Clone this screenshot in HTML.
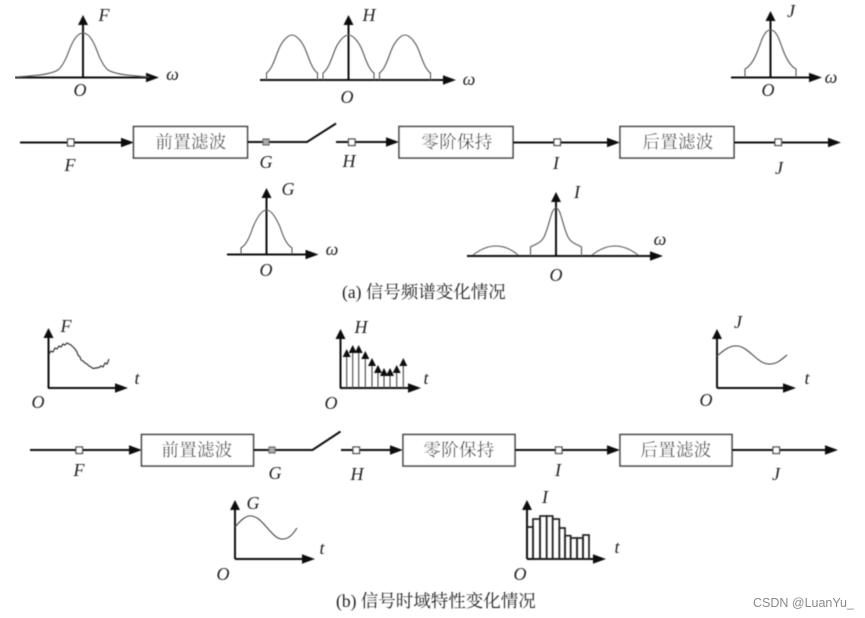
<!DOCTYPE html>
<html><head><meta charset="utf-8"><style>
html,body{margin:0;padding:0;background:#fff}
svg{display:block}
.l{font:italic 18px "Liberation Serif",serif;fill:#222;text-anchor:middle}
.w{font:italic 18px "Liberation Serif",serif;fill:#222;text-anchor:middle}
.z{font:17.500px "Noto Serif CJK SC","Liberation Serif",serif;fill:#333;text-anchor:middle;letter-spacing:.3px}
.c{font:17.500px "Liberation Serif","Noto Serif CJK SC",serif;fill:#222}
.a{stroke:#111;stroke-width:2;fill:none}
.b{fill:#fff;stroke:#444;stroke-width:1.600}
.k{fill:none;stroke:#555;stroke-width:1.100}
.s{fill:#fff;stroke:#444;stroke-width:1.300}
</style></head><body>
<svg width="865" height="618" viewBox="0 0 865 618" xmlns="http://www.w3.org/2000/svg">
<defs><filter id="bl" x="0" y="0" width="100%" height="100%"><feGaussianBlur stdDeviation="0.45"/></filter>
<path id="ar" d="M0 0L-13 -4.800L-13 4.800Z" fill="#111"/>
<path id="au" d="M0 0L-5 10L5 10Z" fill="#111"/>
<path id="bump" d="M-25.500 10V3C-21 0 -18 -8 -14 -19C-11 -27 -5 -35 0 -35C5 -35 11 -27 14 -19C18 -8 21 0 25.500 3V10" fill="none" stroke="#555" stroke-width="1.100"/>
</defs>
<rect width="865" height="618" fill="#fff"/>
<g filter="url(#bl)">
<!-- F spectrum -->
<path class="a" d="M15 77.500H150"/><use href="#ar" x="159" y="77.500"/>
<path class="a" d="M83 77V22"/><use href="#au" x="83" y="15"/>
<path class="k" d="M17 77C30 76 50 75 58 70C63 66 65 60 67 56C70 48 75 33 83 33C91 33 96 48 99 56C101 60 103 66 108 70C116 75 136 76 149 77"/>
<text class="l" x="104" y="21">F</text><text class="w" x="172.500" y="80">ω</text><text class="l" x="80" y="96">O</text>
<!-- H spectrum -->
<path class="a" d="M260 80H450"/><use href="#ar" x="456" y="80"/>
<path class="a" d="M348.500 80V22"/><use href="#au" x="348.500" y="15"/>
<use href="#bump" x="292" y="70"/><use href="#bump" x="348.500" y="70"/><use href="#bump" x="405" y="70"/>
<text class="l" x="369" y="21">H</text><text class="w" x="469" y="85">ω</text><text class="l" x="347" y="103">O</text>
<!-- J spectrum -->
<path class="a" d="M731 77.500H815"/><use href="#ar" x="822" y="77.500"/>
<path class="a" d="M770.500 77V18"/><use href="#au" x="770.500" y="11"/>
<path class="k" d="M745 77V69C751 66 755 58 758 50C760 45 761 41 763 37C765 33 767 30 770.500 30C774 30 776 33 778 37C780 41 781 45 783 50C786 58 790 66 796 69V77"/>
<text class="l" x="791" y="17">J</text><text class="w" x="831" y="83">ω</text><text class="l" x="768" y="96">O</text>
<!-- top chain -->
<path class="a" d="M20 142.500H125"/><use href="#ar" x="134" y="142.500"/>
<rect class="s" x="67.500" y="139" width="6.500" height="7"/>
<rect class="b" x="133.500" y="126.500" width="114" height="31.500"/>
<text class="z" x="191" y="148">前置滤波</text>
<path class="a" d="M247.500 142H307L336 123.500"/>
<rect x="263" y="139" width="6" height="6" fill="#aaa" stroke="#555"/>
<path class="a" d="M336 142H388"/><use href="#ar" x="399" y="142"/>
<rect class="s" x="348.500" y="139" width="6.500" height="6.500"/>
<rect class="b" x="399" y="126.500" width="114" height="31.500"/>
<text class="z" x="457" y="148">零阶保持</text>
<path class="a" d="M513 142.500H610"/><use href="#ar" x="620" y="142.500"/>
<rect class="s" x="554" y="139" width="6.500" height="6.500"/>
<rect class="b" x="620" y="126.500" width="114" height="31.500"/>
<text class="z" x="678" y="148">后置滤波</text>
<path class="a" d="M734 142.500H832"/><use href="#ar" x="841" y="142.500"/>
<rect class="s" x="775" y="139" width="6.500" height="6.500"/>
<text class="l" x="70" y="171">F</text><text class="l" x="266" y="168">G</text><text class="l" x="349" y="167">H</text><text class="l" x="556" y="169">I</text><text class="l" x="779" y="174">J</text>
<!-- G spectrum -->
<path class="a" d="M227 254.500H310"/><use href="#ar" x="318.500" y="254.500"/>
<path class="a" d="M266.500 254V195"/><use href="#au" x="266.500" y="188"/>
<path class="k" d="M241 254V248C247 244 250 236 253 227C256 220 261 210 266.500 210C272 210 277 220 280 227C283 236 286 244 292 248V254"/>
<text class="l" x="288" y="195">G</text><text class="w" x="332" y="255">ω</text><text class="l" x="266" y="276">O</text>
<!-- I spectrum -->
<path class="a" d="M467 256H655"/><use href="#ar" x="663" y="256"/>
<path class="a" d="M556 256V199"/><use href="#au" x="556" y="192"/>
<path class="k" d="M530.500 256V247C536 244 541 243 544 237C547 231 549 222 551 216C552 212 554 208 556 208C558 208 560 212 561 216C563 222 565 231 568 237C571 243 576 244 581.500 247V256"/>
<path class="k" d="M473 255C482 248 490 246 496 246C502 246 510 248 518 255M592 255C601 248 609 246 615 246C621 246 629 248 638 255"/>
<text class="l" x="577" y="198">I</text><text class="w" x="660" y="245">ω</text><text class="l" x="556" y="281">O</text>
<text class="c" x="342" y="298">(a) 信号频谱变化情况</text>
<!-- F time -->
<path class="a" d="M48.500 388V336"/><use href="#au" x="48.500" y="328"/>
<path class="a" d="M48 388H120"/><use href="#ar" x="128" y="388"/>
<path d="M49 354L51 351L53 352L55 348L57 349L59 346L61 347L63 344L65 345L67 343L69 344L71 345L73 347L75 349L77 352L78 355L80 357L81 360L83 361L85 363L87 364L89 366L91 367L93 368.500L96 368L99 367.500L101 366L103 367L105 363L107 364L109 359" fill="none" stroke="#333" stroke-width="1.200"/>
<text class="l" x="66" y="332">F</text><text class="l" x="137" y="384">t</text><text class="l" x="38" y="408">O</text>
<!-- H time -->
<path class="a" d="M340.500 388V337"/><use href="#au" x="340.500" y="329"/>
<path class="a" d="M340 388H414"/><use href="#ar" x="421" y="388"/>
<g stroke="#444" stroke-width="1.100" fill="#111">
<path d="M346.700 388V355M352.700 388V351M358.700 388V351M365.300 388V357M372 388V364M378 388V371M384 388V374M390 388V374M396.700 388V371M403.300 388V364" fill="none"/>
<path d="M346.700 349l-4 8h8zM352.700 345l-4 8h8zM358.700 345l-4 8h8zM365.300 351l-4 8h8zM372 358l-4 8h8zM378 365l-4 8h8zM384 368l-4 8h8zM390 368l-4 8h8zM396.700 365l-4 8h8zM403.300 358l-4 8h8z" stroke="none"/>
</g>
<text class="l" x="361" y="333">H</text><text class="l" x="426" y="384">t</text><text class="l" x="331" y="409">O</text>
<!-- J time -->
<path class="a" d="M717 388V337"/><use href="#au" x="717" y="329"/>
<path class="a" d="M717 388H790"/><use href="#ar" x="796" y="388"/>
<path class="k" style="stroke:#444" d="M717 356C724 350 730 345 738 346C750 348 758 365 770 364C778 364 783 358 787 355"/>
<text class="l" x="738" y="328">J</text><text class="l" x="807" y="384">t</text><text class="l" x="706" y="406">O</text>
<!-- bottom chain -->
<path class="a" d="M30 450H133"/><use href="#ar" x="142" y="450"/>
<rect class="s" x="76" y="447" width="6.500" height="6.500"/>
<rect class="b" x="141.500" y="434.500" width="112" height="31.500"/>
<text class="z" x="197" y="456">前置滤波</text>
<path class="a" d="M253.500 450H312.500L340.500 431.500"/>
<rect x="269" y="447" width="6" height="6" fill="#aaa" stroke="#555"/>
<path class="a" d="M341 450H392"/><use href="#ar" x="403" y="450"/>
<rect class="s" x="353" y="447" width="6.500" height="6.500"/>
<rect class="b" x="403" y="434.500" width="112" height="31.500"/>
<text class="z" x="459" y="456">零阶保持</text>
<path class="a" d="M515 450H610"/><use href="#ar" x="620" y="450"/>
<rect class="s" x="555.500" y="447" width="6.500" height="6.500"/>
<rect class="b" x="620" y="434.500" width="112" height="31.500"/>
<text class="z" x="676" y="456">后置滤波</text>
<path class="a" d="M732 450H830"/><use href="#ar" x="838" y="450"/>
<rect class="s" x="773" y="447" width="6.500" height="6.500"/>
<text class="l" x="79" y="476">F</text><text class="l" x="275" y="479">G</text><text class="l" x="357" y="480">H</text><text class="l" x="558" y="476">I</text><text class="l" x="776" y="480">J</text>
<!-- G time -->
<path class="a" d="M235 559V508"/><use href="#au" x="235" y="500"/>
<path class="a" d="M235 559H307"/><use href="#ar" x="315" y="559"/>
<path class="k" style="stroke:#444" d="M235 527C241 520 246 515 252 516C264 518 272 540 283 539C289 539 293 534 297 528"/>
<text class="l" x="253" y="509">G</text><text class="l" x="322" y="554">t</text><text class="l" x="223" y="580">O</text>
<!-- I time -->
<path class="a" d="M527 559V507"/><use href="#au" x="527" y="500"/>
<path class="a" d="M527 559H599"/><use href="#ar" x="606" y="559"/>
<g fill="none" stroke="#222" stroke-width="1.700">
<path d="M527 527H533V559"/><rect x="533" y="519" width="7" height="40"/><rect x="540" y="516" width="6.700" height="43"/><rect x="546.700" y="516" width="6" height="43"/><rect x="552.700" y="519" width="6.600" height="40"/><rect x="559.300" y="528" width="5.700" height="31"/><rect x="565" y="535.700" width="5.700" height="23.300"/><rect x="570.700" y="538" width="6.300" height="21"/><rect x="577" y="538" width="6" height="21"/><rect x="583" y="535" width="6" height="24"/>
</g>
<text class="l" x="545" y="503">I</text><text class="l" x="617" y="553">t</text><text class="l" x="520" y="580">O</text>
<text class="c" x="336" y="607">(b) 信号时域特性变化情况</text>
</g>
<text x="753" y="607" style="font:12.500px 'Liberation Sans',sans-serif;fill:#8a8a8a">CSDN @LuanYu_</text>
</svg>
</body></html>
